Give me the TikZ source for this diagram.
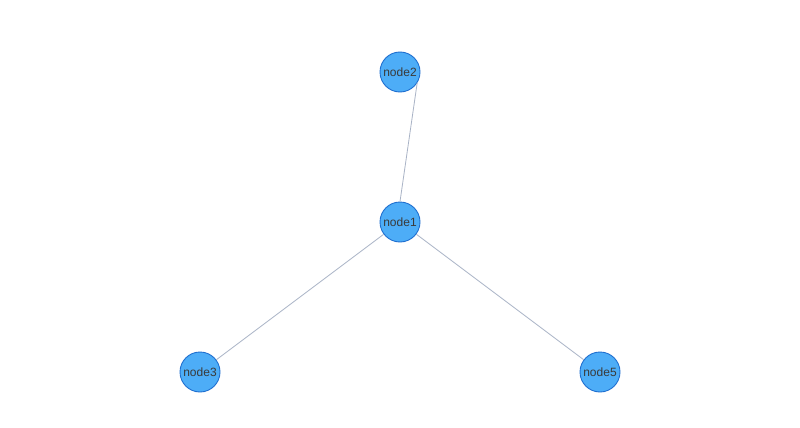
\documentclass[tikz,border=0pt]{standalone}
\usepackage{fontspec}
\setmainfont{Liberation Sans}
\definecolor{nodefill}{HTML}{4DADF7}
\definecolor{nodeedge}{HTML}{1F6FD0}
\definecolor{linkcol}{HTML}{A9B3C6}
\definecolor{txtcol}{HTML}{3A3A3A}
\begin{document}
\begin{tikzpicture}[x=1pt,y=-1pt,
  gnode/.style={circle,draw=nodeedge,fill=nodefill,line width=0.9pt,minimum size=40pt,inner sep=0pt,font=\fontsize{12}{14}\selectfont,text=txtcol},
  link/.style={draw=linkcol,line width=0.8pt}]
\useasboundingbox (0,0) rectangle (800,428);
\fill[white] (0,0) rectangle (800,428);
\node[gnode] (n2) at (400,72) {node2};
\node[gnode] (n1) at (400,222) {node1};
\node[gnode] (n3) at (200,372) {node3};
\node[gnode] (n5) at (600,372) {node5};
\begin{scope}[on background layer/.style={}]
\end{scope}
\draw[link] (n1.north) -- (n2.-33);
\draw[link] (n1) -- (n3);
\draw[link] (n1) -- (n5);
\end{tikzpicture}
\end{document}
